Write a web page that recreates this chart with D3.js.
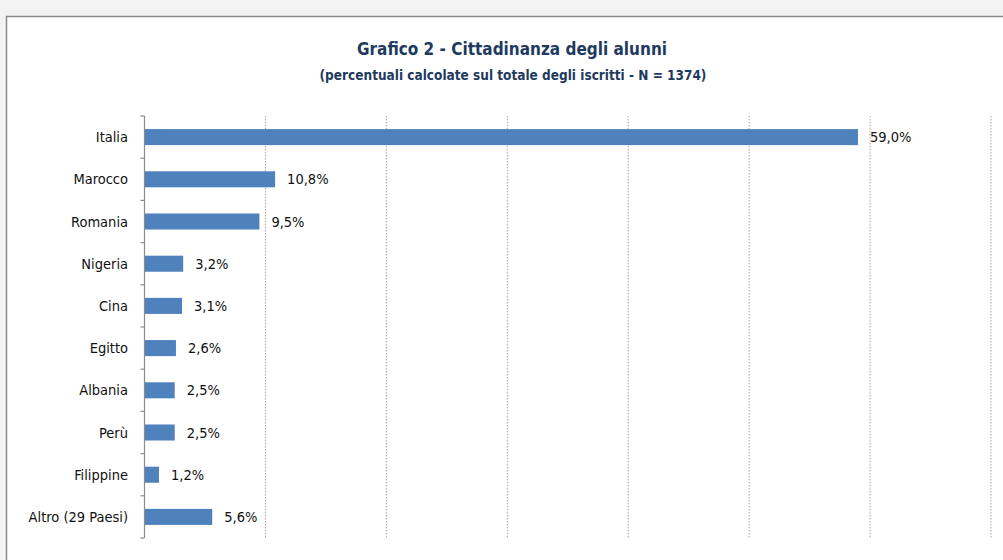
<!DOCTYPE html>
<html>
<head>
<meta charset="utf-8">
<script src="https://cdn.jsdelivr.net/npm/d3@7"></script>
<style>
  body { margin: 0; background: #f3f3f3; }
  svg { display: block; }
</style>
</head>
<body>
<svg id="chart"></svg>
<script>
  const W = 1003, H = 560;

  const countries = ["Italia", "Marocco", "Romania", "Nigeria", "Cina", "Egitto",
                     "Albania", "Perù", "Filippine", "Altro (29 Paesi)"];
  const shares = [59.0, 10.8, 9.5, 3.2, 3.1, 2.6, 2.5, 2.5, 1.2, 5.6];
  const gridTicks = [10, 20, 30, 40, 50, 60, 70];

  const font = "'Liberation Sans Narrow', 'Arial Narrow', 'DejaVu Sans Condensed', sans-serif";

  const plot = {left: 144.5, right: 991, top: 116, bottom: 538};

  let svg = d3.select("#chart")
              .attr("width", W)
              .attr("height", H);

  // frame of the chart area
  svg.append("rect")
     .attr("x", 6.5)
     .attr("y", 16.5)
     .attr("width", W + 10)
     .attr("height", H + 10)
     .style("fill", "#fff")
     .style("stroke", "#8c8c8c")
     .style("stroke-width", 1.5);

  let x = d3.scaleLinear()
            .domain([0, 70])
            .range([plot.left, plot.right]);

  let y = d3.scaleBand()
            .domain(countries)
            .range([plot.top, plot.bottom])
            .paddingInner(0.62)
            .paddingOuter(0.31);

  // title
  svg.append("text")
     .attr("x", 512)
     .attr("y", 55)
     .attr("text-anchor", "middle")
     .attr("font-family", font)
     .attr("font-weight", "bold")
     .attr("font-size", 17)
     .attr("fill", "#1f3a60")
     .text("Grafico 2 - Cittadinanza degli alunni");

  svg.append("text")
     .attr("x", 513)
     .attr("y", 80)
     .attr("text-anchor", "middle")
     .attr("font-family", font)
     .attr("font-weight", "bold")
     .attr("font-size", 13.5)
     .attr("fill", "#1f3a60")
     .text("(percentuali calcolate sul totale degli iscritti - N = 1374)");

  // dotted vertical gridlines
  svg.append("g")
     .selectAll("line")
     .data(gridTicks)
     .enter()
     .append("line")
     .attr("x1", (d) => x(d))
     .attr("x2", (d) => x(d))
     .attr("y1", plot.top)
     .attr("y2", plot.bottom)
     .style("stroke", "#a6a6a6")
     .style("stroke-width", 1)
     .style("stroke-dasharray", "1.5,1.5");

  // category axis line + boundary ticks
  const step = y.step(),
        half = step * y.paddingInner() / 2;
  let bounds = countries.map((c) => y(c) - half);
  bounds.push(y(countries[countries.length - 1]) + y.bandwidth() + half);

  svg.append("line")
     .attr("x1", x(0))
     .attr("x2", x(0))
     .attr("y1", plot.top)
     .attr("y2", plot.bottom)
     .style("stroke", "#8c8c8c")
     .style("stroke-width", 1.2);

  svg.append("g")
     .selectAll("line")
     .data(bounds)
     .enter()
     .append("line")
     .attr("x1", x(0) - 4)
     .attr("x2", x(0))
     .attr("y1", (d) => d)
     .attr("y2", (d) => d)
     .style("stroke", "#8c8c8c")
     .style("stroke-width", 1.2);

  // bars
  svg.append("g")
     .selectAll("rect")
     .data(countries)
     .enter()
     .append("rect")
     .attr("x", x(0) + 0.5)
     .attr("y", (d) => y(d))
     .attr("width", (d, i) => x(shares[i]) - x(0) - 0.5)
     .attr("height", y.bandwidth())
     .style("fill", "#4f81bd");

  // category labels
  svg.append("g")
     .selectAll("text")
     .data(countries)
     .enter()
     .append("text")
     .attr("x", 128)
     .attr("y", (d) => y(d) + y.bandwidth() / 2)
     .attr("dy", "0.35em")
     .attr("text-anchor", "end")
     .attr("font-family", font)
     .attr("font-size", 14.5)
     .attr("fill", "#111")
     .text((d) => d);

  // value labels
  const fmt = (v) => v.toFixed(1).replace(".", ",") + "%";
  svg.append("g")
     .selectAll("text")
     .data(countries)
     .enter()
     .append("text")
     .attr("x", (d, i) => x(shares[i]) + 12)
     .attr("y", (d) => y(d) + y.bandwidth() / 2)
     .attr("dy", "0.35em")
     .attr("font-family", font)
     .attr("font-size", 14.5)
     .attr("fill", "#111")
     .text((d, i) => fmt(shares[i]));
</script>
</body>
</html>
